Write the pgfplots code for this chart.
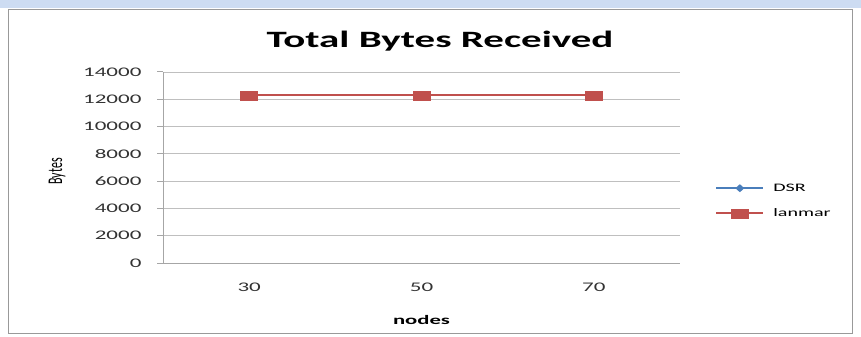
\documentclass[border=0pt]{standalone}
\usepackage{fontspec}
\setmainfont{Carlito}
\usepackage{graphicx}
\usepackage{pgfplots}
\pgfplotsset{compat=1.18}
\definecolor{dsr}{RGB}{74,126,187}
\definecolor{lan}{RGB}{192,80,77}
\definecolor{band}{RGB}{205,220,242}
\newcommand\sx[1]{\scalebox{1.75}[1]{#1}}
\begin{document}
\begin{tikzpicture}[x=1bp,y=1bp]
\fill[white] (0,0) rectangle (861,336);
\fill[band] (0,328) rectangle (861,336);
\draw[black!40, line width=1bp] (8,3) rectangle (852,326);
\node[font=\bfseries\fontsize{23.5}{27}\selectfont] at (440,295) {\sx{Total Bytes Received}};
\begin{axis}[
  at={(163bp,73bp)}, anchor=south west, scale only axis,
  width=517bp, height=191bp,
  xmin=-0.5, xmax=2.5, ymin=0, ymax=14000,
  scaled y ticks=false,
  xtick={0,1,2}, xticklabels={\sx{30},\sx{50},\sx{70}},
  ytick={0,2000,4000,6000,8000,10000,12000,14000},
  yticklabels={\sx{0},\sx{2000},\sx{4000},\sx{6000},\sx{8000},\sx{10000},\sx{12000},\sx{14000}},
  ticklabel style={font=\fontsize{13.2}{15}\selectfont, text=black!80},
  axis x line*=bottom, axis y line*=left,
  axis line style={black!35, line width=1bp},
  ymajorgrids, grid style={black!25, line width=0.8bp},
  tick align=outside, major tick length=6bp,
  ytick style={black!35, line width=1bp}, xtick style={draw=none},
  yticklabel style={xshift=-12bp},
  xticklabel style={yshift=-10bp},
  xlabel={\sx{nodes}}, xlabel style={font=\bfseries\fontsize{13}{15}\selectfont, yshift=-17bp},
  ylabel={\scalebox{1}[1.75]{Bytes}}, ylabel style={font=\fontsize{12}{14}\selectfont, at={(axis description cs:-0.205,0.48)}, anchor=center},
  legend style={at={(axis description cs:1.068,0.325)}, anchor=west, draw=none, fill=none,
    font=\fontsize{11.5}{13}\selectfont, row sep=12bp, inner sep=0pt,
    nodes={inner xsep=9bp}},
  legend cell align=left,
  legend image code/.code={\draw[mark repeat=2,mark phase=2,#1] plot coordinates {(0bp,0bp) (23.5bp,0bp) (47bp,0bp)};},
  clip=false,
]
\addplot[dsr, line width=1.5bp, mark=diamond*, mark size=3bp, mark options={xscale=1.5}] coordinates {(0,12280) (1,12280) (2,12280)};
\addlegendentry{\sx{DSR}}
\addplot[lan, line width=2bp, mark=square*, mark size=4.5bp, mark options={xscale=1.9, line width=0.5bp}] coordinates {(0,12280) (1,12280) (2,12280)};
\addlegendentry{\sx{lanmar}}
\end{axis}
\end{tikzpicture}
\end{document}
